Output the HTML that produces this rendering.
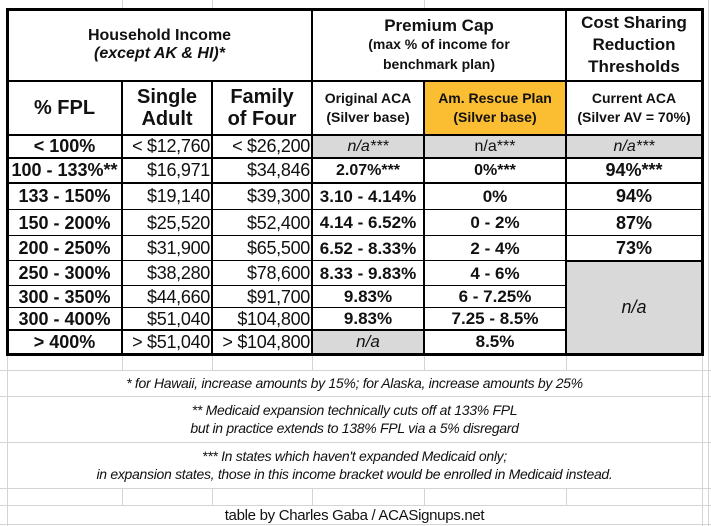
<!DOCTYPE html>
<html><head><meta charset="utf-8"><style>
body{margin:0;width:711px;height:526px;background:#fff;position:relative;overflow:hidden;font-family:"Liberation Sans",Arial,sans-serif;color:#111}
.c{position:absolute;display:flex;align-items:center;justify-content:center;text-align:center;line-height:1.12;white-space:nowrap}
.b{font-weight:bold}
.r{justify-content:flex-end;padding-right:2px;box-sizing:border-box}
.l{position:absolute;background:#000}
.g{position:absolute;background:#d4d4d4}
.gray{background:#d9d9d9}
.or{background:#fbbd32}
.i{font-style:italic}
.t{font-size:18px}
.n{font-size:18px;letter-spacing:-0.3px}
.fn{position:absolute;left:7px;width:695px;text-align:center;font-style:italic;font-size:14px;letter-spacing:-0.3px}
</style></head><body>
<!-- light grid -->
<div class="g" style="left:0;top:370px;width:711px;height:1px"></div>
<div class="g" style="left:0;top:396px;width:711px;height:1px"></div>
<div class="g" style="left:0;top:442px;width:711px;height:1px"></div>
<div class="g" style="left:0;top:488px;width:711px;height:1px"></div>
<div class="g" style="left:0;top:505px;width:711px;height:1px"></div>
<div class="g" style="left:0;top:524px;width:711px;height:1px"></div>
<div class="g" style="left:7px;top:354px;width:1px;height:172px"></div>
<div class="g" style="left:702px;top:354px;width:1px;height:172px"></div>
<div class="g" style="left:708px;top:0;width:1px;height:526px"></div>
<div class="g" style="left:122px;top:0;width:1px;height:9px"></div>
<div class="g" style="left:212px;top:0;width:1px;height:9px"></div>
<div class="g" style="left:424px;top:0;width:1px;height:9px"></div>
<div class="g" style="left:122px;top:354px;width:1px;height:16px"></div>
<div class="g" style="left:212px;top:354px;width:1px;height:16px"></div>
<div class="g" style="left:312px;top:354px;width:1px;height:16px"></div>
<div class="g" style="left:424px;top:354px;width:1px;height:16px"></div>
<div class="g" style="left:566px;top:354px;width:1px;height:16px"></div>
<div class="g" style="left:122px;top:488px;width:1px;height:17px"></div>
<div class="g" style="left:212px;top:488px;width:1px;height:17px"></div>
<div class="g" style="left:312px;top:488px;width:1px;height:17px"></div>
<div class="g" style="left:424px;top:488px;width:1px;height:17px"></div>
<div class="g" style="left:566px;top:488px;width:1px;height:17px"></div>

<!-- fills -->
<div class="c gray" style="left:312px;top:135px;width:390px;height:23px"></div>
<div class="c or" style="left:424px;top:81px;width:142px;height:54px"></div>
<div class="c gray" style="left:566px;top:261px;width:136px;height:93px"></div>
<div class="c gray" style="left:312px;top:330px;width:112px;height:24px"></div>

<!-- headers -->
<div class="c b" style="left:7px;top:9px;width:305px;height:72px;font-size:16px;flex-direction:column">Household Income<span class="i">(except AK &amp; HI)*</span></div>
<div class="c b" style="left:312px;top:9px;width:254px;height:72px;flex-direction:column"><span style="font-size:17px">Premium Cap</span><span style="font-size:14px;line-height:1.4">(max % of income for<br>benchmark plan)</span></div>
<div class="c b" style="left:566px;top:9px;width:136px;height:72px;font-size:17px;line-height:1.3">Cost Sharing<br>Reduction<br>Thresholds</div>
<div class="c b" style="left:7px;top:81px;width:115px;height:54px;font-size:20px">% FPL</div>
<div class="c b" style="left:122px;top:81px;width:90px;height:54px;font-size:20px">Single<br>Adult</div>
<div class="c b" style="left:212px;top:81px;width:100px;height:54px;font-size:20px">Family<br>of Four</div>
<div class="c b" style="left:312px;top:81px;width:112px;height:54px;font-size:14px;line-height:1.35">Original ACA<br>(Silver base)</div>
<div class="c b" style="left:424px;top:81px;width:142px;height:54px;font-size:14px;line-height:1.35">Am. Rescue Plan<br>(Silver base)</div>
<div class="c b" style="left:566px;top:81px;width:136px;height:54px;font-size:14px;line-height:1.35">Current ACA<br>(Silver AV = 70%)</div>

<!-- rows -->
<div class="c b t" style="left:7px;top:135px;width:115px;height:23px">&lt; 100%</div>
<div class="c r n" style="left:122px;top:135px;width:90px;height:23px">&lt; $12,760</div>
<div class="c r n" style="left:212px;top:135px;width:100px;height:23px">&lt; $26,200</div>
<div class="c i t" style="left:312px;top:135px;width:112px;height:23px;font-size:16px">n/a***</div>
<div class="c t" style="left:424px;top:135px;width:142px;height:23px;font-size:16px">n/a***</div>
<div class="c i t" style="left:566px;top:135px;width:136px;height:23px;font-size:16px">n/a***</div>

<div class="c b t" style="left:7px;top:158px;width:115px;height:25px">100 - 133%**</div>
<div class="c r n" style="left:122px;top:158px;width:90px;height:25px">$16,971</div>
<div class="c r n" style="left:212px;top:158px;width:100px;height:25px">$34,846</div>
<div class="c b" style="left:312px;top:158px;width:112px;height:25px;font-size:16px">2.07%***</div>
<div class="c b" style="left:424px;top:158px;width:142px;height:25px;font-size:16px">0%***</div>
<div class="c b" style="left:566px;top:158px;width:136px;height:25px;font-size:18px">94%***</div>

<div class="c b t" style="left:7px;top:183px;width:115px;height:27px">133 - 150%</div>
<div class="c r n" style="left:122px;top:183px;width:90px;height:27px">$19,140</div>
<div class="c r n" style="left:212px;top:183px;width:100px;height:27px">$39,300</div>
<div class="c b" style="left:312px;top:183px;width:112px;height:27px;font-size:17px">3.10 - 4.14%</div>
<div class="c b" style="left:424px;top:183px;width:142px;height:27px;font-size:17px">0%</div>
<div class="c b t" style="left:566px;top:183px;width:136px;height:27px">94%</div>

<div class="c b t" style="left:7px;top:210px;width:115px;height:26px">150 - 200%</div>
<div class="c r n" style="left:122px;top:210px;width:90px;height:26px">$25,520</div>
<div class="c r n" style="left:212px;top:210px;width:100px;height:26px">$52,400</div>
<div class="c b" style="left:312px;top:210px;width:112px;height:26px;font-size:17px">4.14 - 6.52%</div>
<div class="c b" style="left:424px;top:210px;width:142px;height:26px;font-size:17px">0 - 2%</div>
<div class="c b t" style="left:566px;top:210px;width:136px;height:26px">87%</div>

<div class="c b t" style="left:7px;top:236px;width:115px;height:25px">200 - 250%</div>
<div class="c r n" style="left:122px;top:236px;width:90px;height:25px">$31,900</div>
<div class="c r n" style="left:212px;top:236px;width:100px;height:25px">$65,500</div>
<div class="c b" style="left:312px;top:236px;width:112px;height:25px;font-size:17px">6.52 - 8.33%</div>
<div class="c b" style="left:424px;top:236px;width:142px;height:25px;font-size:17px">2 - 4%</div>
<div class="c b t" style="left:566px;top:236px;width:136px;height:25px">73%</div>

<div class="c b t" style="left:7px;top:261px;width:115px;height:25px">250 - 300%</div>
<div class="c r n" style="left:122px;top:261px;width:90px;height:25px">$38,280</div>
<div class="c r n" style="left:212px;top:261px;width:100px;height:25px">$78,600</div>
<div class="c b" style="left:312px;top:261px;width:112px;height:25px;font-size:17px">8.33 - 9.83%</div>
<div class="c b" style="left:424px;top:261px;width:142px;height:25px;font-size:17px">4 - 6%</div>

<div class="c b t" style="left:7px;top:286px;width:115px;height:22px">300 - 350%</div>
<div class="c r n" style="left:122px;top:286px;width:90px;height:22px">$44,660</div>
<div class="c r n" style="left:212px;top:286px;width:100px;height:22px">$91,700</div>
<div class="c b" style="left:312px;top:286px;width:112px;height:22px;font-size:17px">9.83%</div>
<div class="c b" style="left:424px;top:286px;width:142px;height:22px;font-size:17px">6 - 7.25%</div>

<div class="c b t" style="left:7px;top:308px;width:115px;height:22px">300 - 400%</div>
<div class="c r n" style="left:122px;top:308px;width:90px;height:22px">$51,040</div>
<div class="c r n" style="left:212px;top:308px;width:100px;height:22px">$104,800</div>
<div class="c b" style="left:312px;top:308px;width:112px;height:22px;font-size:17px">9.83%</div>
<div class="c b" style="left:424px;top:308px;width:142px;height:22px;font-size:17px">7.25 - 8.5%</div>

<div class="c b t" style="left:7px;top:330px;width:115px;height:24px">&gt; 400%</div>
<div class="c r n" style="left:122px;top:330px;width:90px;height:24px">&gt; $51,040</div>
<div class="c r n" style="left:212px;top:330px;width:100px;height:24px">&gt; $104,800</div>
<div class="c i" style="left:312px;top:330px;width:112px;height:24px;font-size:17px">n/a</div>
<div class="c b" style="left:424px;top:330px;width:142px;height:24px;font-size:17px">8.5%</div>

<div class="c i" style="left:566px;top:261px;width:136px;height:93px;font-size:18px">n/a</div>

<!-- black lines -->
<div class="l" style="left:6px;top:8px;width:697px;height:3px"></div>
<div class="l" style="left:6px;top:80px;width:697px;height:2px"></div>
<div class="l" style="left:6px;top:134px;width:697px;height:2px"></div>
<div class="l" style="left:6px;top:157px;width:697px;height:2px"></div>
<div class="l" style="left:6px;top:182px;width:697px;height:2px"></div>
<div class="l" style="left:6px;top:209px;width:697px;height:1px"></div>
<div class="l" style="left:6px;top:235px;width:697px;height:1px"></div>
<div class="l" style="left:6px;top:260px;width:560px;height:1px"></div>
<div class="l" style="left:566px;top:260px;width:137px;height:2px"></div>
<div class="l" style="left:6px;top:285px;width:560px;height:1px"></div>
<div class="l" style="left:6px;top:307px;width:560px;height:1px"></div>
<div class="l" style="left:6px;top:329px;width:560px;height:2px"></div>
<div class="l" style="left:6px;top:353px;width:697px;height:3px"></div>
<div class="l" style="left:6px;top:8px;width:3px;height:348px"></div>
<div class="l" style="left:121px;top:80px;width:2px;height:275px"></div>
<div class="l" style="left:211px;top:80px;width:2px;height:275px"></div>
<div class="l" style="left:311px;top:8px;width:2px;height:347px"></div>
<div class="l" style="left:423px;top:80px;width:2px;height:275px"></div>
<div class="l" style="left:565px;top:8px;width:2px;height:347px"></div>
<div class="l" style="left:701px;top:8px;width:3px;height:348px"></div>

<!-- footnotes -->
<div class="fn" style="top:375px">* for Hawaii, increase amounts by 15%; for Alaska, increase amounts by 25%</div>
<div class="fn" style="top:401px;line-height:18px">** Medicaid expansion technically cuts off at 133% FPL<br>but in practice extends to 138% FPL via a 5% disregard</div>
<div class="fn" style="top:447px;line-height:18px">*** In states which haven't expanded Medicaid only;<br>in expansion states, those in this income bracket would be enrolled in Medicaid instead.</div>
<div class="fn" style="top:507px;font-style:normal;font-size:15px">table by Charles Gaba / ACASignups.net</div>
</body></html>
